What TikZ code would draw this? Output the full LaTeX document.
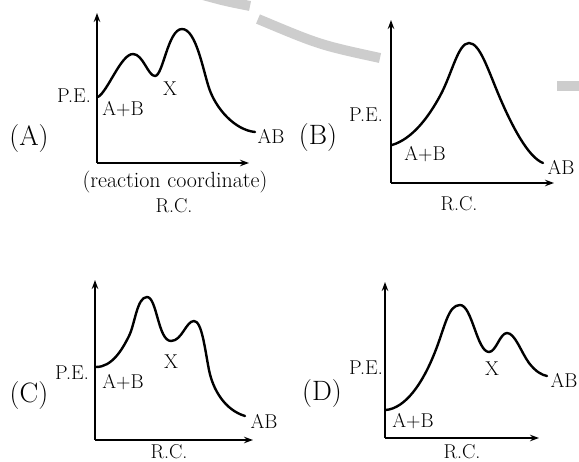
\documentclass[tikz,border=0pt]{standalone}
\usepackage{xcolor}
\usetikzlibrary{arrows.meta}
\definecolor{wmgray}{RGB}{205,205,205}

\begin{document}
\begin{tikzpicture}[x=1pt, y=-1pt]
  \tikzset{
    axis/.style={line width=1.2pt, -{Stealth[length=9pt,width=6.5pt]}},
    curve/.style={line width=2.4pt, line join=round, line cap=round},
    lab/.style={font=\fontsize{20}{24}\selectfont, inner sep=0pt},
    tag/.style={font=\fontsize{28}{32}\selectfont, inner sep=0pt},
    wmband/.style={line width=10pt, wmgray}
  }
  \useasboundingbox (0,0) rectangle (579,462);

  % faint band behind the plots
  \draw[wmband] (203,-5) .. controls (225,1) .. (250,6);
  \draw[wmband] (258,19) .. controls (320,45) .. (380,58);
  \draw[wmband] (557,86) -- (580,86);

  % (A) two humps, X in between
  \coordinate (oA) at (97,163);
  \coordinate (yA) at (97,13);
  \coordinate (xA) at (249,163);
  \draw[axis] (oA) -- (yA);
  \draw[axis] (oA) -- (xA);
  \draw[curve] (98,97) .. controls (108,91) and (121,54) .. (133,54)
    .. controls (143,54) and (148,76) .. (155,76)
    .. controls (163,76) and (168,29) .. (182,29)
    .. controls (196,29) and (203,70) .. (209,88)
    .. controls (216,109) and (235,130) .. (255,132);
  \node[tag] (tA)  at (29,139)  {(A)};
  \node[lab] (peA) at (74,96)   {P.E.};
  \node[lab] (rA)  at (123,109) {A+B};
  \node[lab] (xxA) at (170,89)  {X};
  \node[lab] (pA)  at (271,136) {AB};
  \node[lab, font=\fontsize{22}{26}\selectfont] (cA) at (175,182) {(reaction coordinate)};
  \node[lab] (rcA) at (174,206) {R.C.};

  % (B) one hump
  \coordinate (oB) at (391,183);
  \coordinate (yB) at (391,20);
  \coordinate (xB) at (554,183);
  \draw[axis] (oB) -- (yB);
  \draw[axis] (oB) -- (xB);
  \draw[curve] (392,145) .. controls (412,139) and (428,118) .. (440,96)
    .. controls (452,74) and (458,43) .. (469,43)
    .. controls (480,43) and (488,70) .. (500,98)
    .. controls (512,126) and (528,157) .. (543,163);
  \node[tag] (tB)  at (318,138) {(B)};
  \node[lab] (peB) at (366,115) {P.E.};
  \node[lab] (rB)  at (425,154) {A+B};
  \node[lab] (pB)  at (561,167) {AB};
  \node[lab] (rcB) at (459,204) {R.C.};

  % (C) high hump first, then X
  \coordinate (oC) at (95,440);
  \coordinate (yC) at (95,280);
  \coordinate (xC) at (253,440);
  \draw[axis] (oC) -- (yC);
  \draw[axis] (oC) -- (xC);
  \draw[curve] (96,367) .. controls (112,367) and (122,350) .. (129,336)
    .. controls (135,324) and (137,297) .. (147,297)
    .. controls (157,297) and (158,341) .. (171,341)
    .. controls (182,341) and (186,321) .. (194,321)
    .. controls (202,321) and (205,350) .. (209,370)
    .. controls (213,390) and (225,410) .. (245,416);
  \node[tag] (tC)  at (29,396)  {(C)};
  \node[lab] (peC) at (72,373)  {P.E.};
  \node[lab] (rC)  at (123,382) {A+B};
  \node[lab] (xxC) at (171,362) {X};
  \node[lab] (pC)  at (264,421) {AB};
  \node[lab] (rcC) at (169,452) {R.C.};

  % (D) low start, high hump, then X
  \coordinate (oD) at (385,438);
  \coordinate (yD) at (385,282);
  \coordinate (xD) at (539,438);
  \draw[axis] (oD) -- (yD);
  \draw[axis] (oD) -- (xD);
  \draw[curve] (386,410) .. controls (405,408) and (422,385) .. (435,352)
    .. controls (445,327) and (448,305) .. (460,305)
    .. controls (472,305) and (477,352) .. (489,352)
    .. controls (496,352) and (500,333) .. (507,333)
    .. controls (515,333) and (521,352) .. (529,363)
    .. controls (536,372) and (542,375) .. (547,376);
  \node[tag] (tD)  at (322,394) {(D)};
  \node[lab] (peD) at (366,368) {P.E.};
  \node[lab] (rD)  at (413,421) {A+B};
  \node[lab] (xxD) at (492,369) {X};
  \node[lab] (pD)  at (564,380) {AB};
  \node[lab] (rcD) at (462,452) {R.C.};
\end{tikzpicture}
\end{document}
